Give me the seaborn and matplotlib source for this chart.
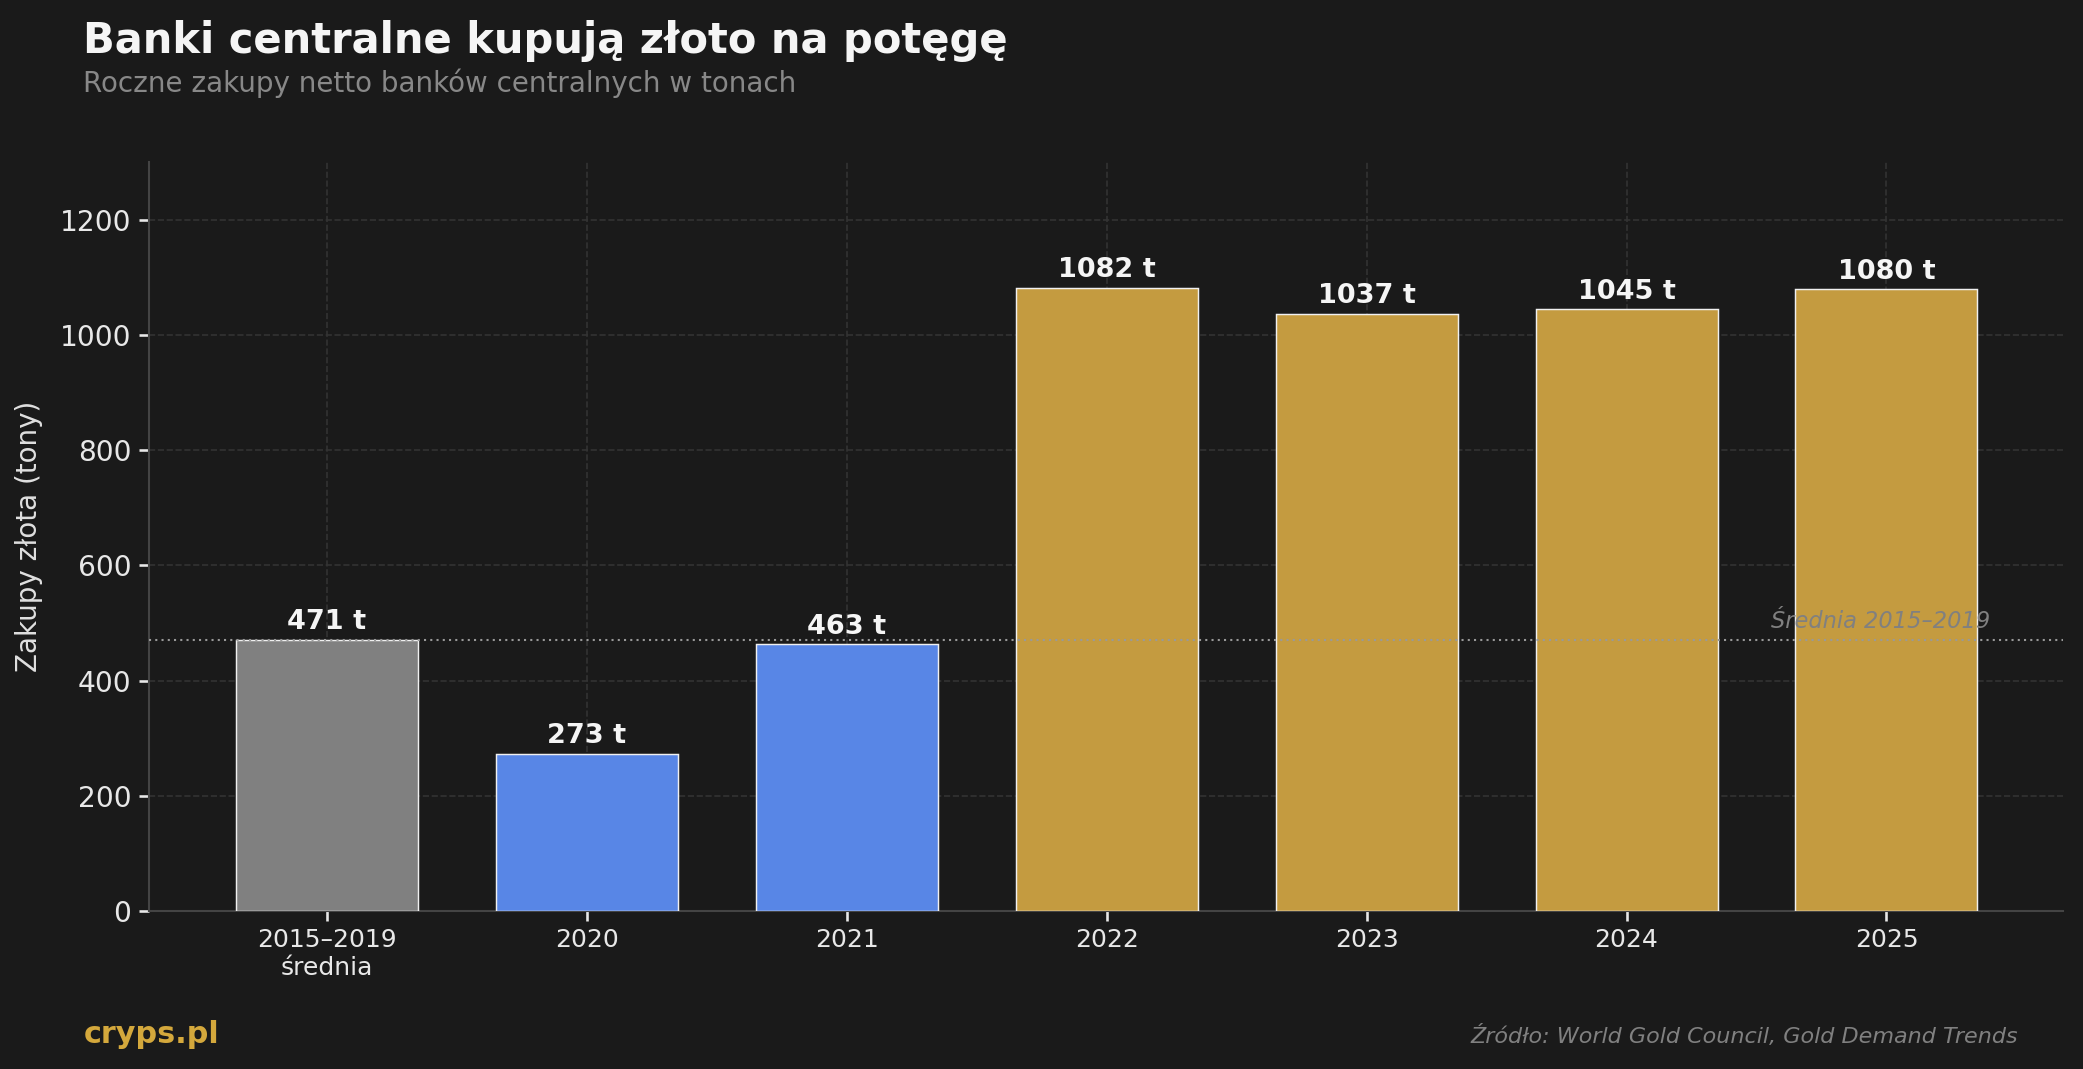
import matplotlib
matplotlib.use("Agg")
import matplotlib.pyplot as plt
import seaborn as sns

# dane: roczne zakupy netto bankow centralnych (tony)
categories = ["2015–2019\nśrednia", "2020", "2021", "2022", "2023", "2024", "2025"]
values = [471, 273, 463, 1082, 1037, 1045, 1080]
bar_colors = ["#808080", "#5886e6", "#5886e6", "#c49b40", "#c49b40", "#c49b40", "#c49b40"]
avg_2015_2019 = 471

BG = "#1a1a1a"

sns.set_theme(style="dark")
plt.rcParams["font.family"] = ["DejaVu Sans"]

fig = plt.figure(figsize=(2083 / 150, 1069 / 150), dpi=150, facecolor=BG)
ax = fig.add_axes([0.0715, 0.148, 0.919, 0.7])
ax.set_facecolor(BG)

sns.barplot(
    x=categories, y=values, hue=categories,
    palette=dict(zip(categories, bar_colors)),
    legend=False, width=0.7, edgecolor="#f0f0f0", linewidth=0.7,
    saturation=1, ax=ax, zorder=3
)

# wartosci nad slupkami
for i, v in enumerate(values):
    ax.text(i, v + 8, f"{v} t", ha="center", va="bottom",
            fontsize=13, fontweight="bold", color="#f5f5f5", zorder=5)

# linia sredniej
ax.axhline(avg_2015_2019, color="#999999", linestyle=(0, (1, 2)), linewidth=1.0, zorder=4)
ax.text(6.4, avg_2015_2019 + 12, "Średnia 2015–2019", ha="right", va="bottom",
        fontsize=10.8, style="italic", color="#808080", zorder=5)

ax.set_xlim(-0.685, 6.68)
ax.set_ylim(0, 1300)
ax.set_yticks([0, 200, 400, 600, 800, 1000, 1200])
ax.set_ylabel("Zakupy złota (tony)", fontsize=13.3, color="#e0e0e0", labelpad=8)
ax.set_xlabel("")

ax.grid(True, color="#333333", linestyle="--", linewidth=0.8, zorder=0)
ax.set_axisbelow(True)
ax.tick_params(axis="y", colors="#e8e8e8", labelsize=13.5, length=5, left=True)
ax.tick_params(axis="x", colors="#e8e8e8", labelsize=12, length=5, bottom=True)
for s in ["top", "right"]:
    ax.spines[s].set_visible(False)
for s in ["left", "bottom"]:
    ax.spines[s].set_color("#444444")
    ax.spines[s].set_linewidth(1.0)

# tytul i podpisy
fig.text(0.040, 0.950, "Banki centralne kupują złoto na potęgę",
         fontsize=20, fontweight="bold", color="#f5f5f5")
fig.text(0.040, 0.914, "Roczne zakupy netto banków centralnych w tonach",
         fontsize=13.3, color="#888888")
fig.text(0.040, 0.024, "cryps.pl", fontsize=14.5, fontweight="bold", color="#d4a83c")
fig.text(0.969, 0.024, "Źródło: World Gold Council, Gold Demand Trends",
         ha="right", fontsize=10.7, style="italic", color="#808080")

fig.savefig("out.png", dpi=150, facecolor=BG)
